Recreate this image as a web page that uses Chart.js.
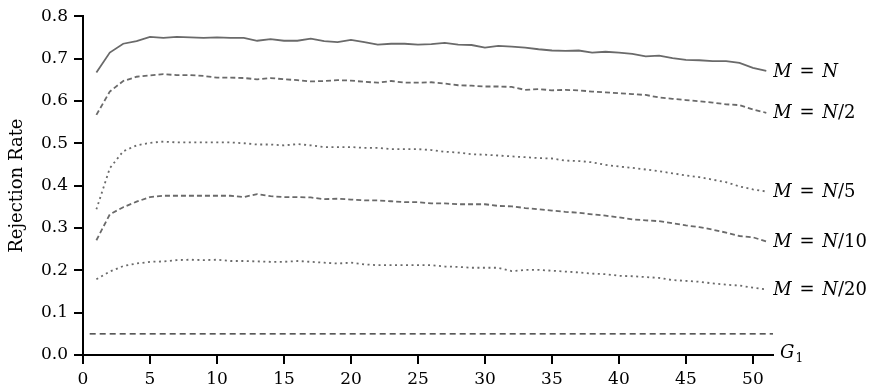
<!DOCTYPE html>
<html>
<head>
<meta charset="utf-8">
<script src="https://cdn.jsdelivr.net/npm/chart.js@4.4.1/dist/chart.umd.min.js"></script>
<style>
  html, body { margin: 0; padding: 0; background: #fff; }
  #wrap { width: 875px; height: 388px; position: relative; }
</style>
</head>
<body>
<div id="wrap"><canvas id="rejection"></canvas></div>
<script>
const g1 = [1,2,3,4,5,6,7,8,9,10,11,12,13,14,15,16,17,18,19,20,21,22,23,24,25,26,27,28,29,30,31,32,33,34,35,36,37,38,39,40,41,42,43,44,45,46,47,48,49,50,51];

const seriesNames = ['M = N', 'M = N/2', 'M = N/5', 'M = N/10', 'M = N/20'];

const rateN = [0.667,0.714,0.735,0.741,0.751,0.749,0.751,0.750,0.749,0.750,
  0.749,0.749,0.742,0.746,0.742,0.742,0.747,0.741,0.739,0.744,
  0.739,0.733,0.735,0.735,0.733,0.734,0.737,0.733,0.732,0.726,
  0.730,0.728,0.726,0.722,0.719,0.718,0.719,0.714,0.716,0.714,
  0.711,0.705,0.707,0.701,0.697,0.696,0.694,0.694,0.690,0.678,0.671];
const rateN2 = [0.567,0.622,0.647,0.657,0.660,0.663,0.661,0.661,0.659,0.655,
  0.655,0.654,0.651,0.654,0.651,0.649,0.646,0.647,0.649,0.648,
  0.645,0.643,0.647,0.643,0.643,0.644,0.641,0.637,0.636,0.634,
  0.634,0.633,0.626,0.628,0.625,0.626,0.625,0.622,0.620,0.618,
  0.616,0.614,0.608,0.605,0.602,0.599,0.596,0.592,0.590,0.580,0.572];
const rateN5 = [0.344,0.441,0.481,0.495,0.501,0.504,0.502,0.502,0.502,0.502,
  0.502,0.500,0.497,0.497,0.495,0.498,0.495,0.491,0.491,0.491,
  0.489,0.489,0.486,0.486,0.486,0.484,0.480,0.478,0.474,0.473,
  0.471,0.469,0.467,0.465,0.464,0.459,0.458,0.455,0.449,0.445,
  0.442,0.438,0.434,0.429,0.424,0.420,0.414,0.408,0.398,0.391,0.386];
const rateN10 = [0.271,0.332,0.349,0.362,0.373,0.376,0.376,0.376,0.376,0.376,
  0.376,0.373,0.380,0.375,0.373,0.373,0.372,0.368,0.369,0.367,
  0.365,0.365,0.363,0.361,0.361,0.358,0.358,0.356,0.356,0.356,
  0.352,0.351,0.347,0.344,0.341,0.338,0.336,0.332,0.329,0.325,
  0.320,0.318,0.316,0.311,0.306,0.302,0.296,0.289,0.281,0.278,0.268];
const rateN20 = [0.179,0.197,0.210,0.216,0.220,0.221,0.224,0.225,0.224,0.225,
  0.222,0.222,0.221,0.220,0.220,0.222,0.220,0.218,0.216,0.218,
  0.214,0.212,0.212,0.212,0.212,0.212,0.209,0.208,0.206,0.206,
  0.206,0.198,0.201,0.201,0.199,0.197,0.195,0.192,0.191,0.187,
  0.186,0.184,0.182,0.177,0.175,0.173,0.169,0.166,0.164,0.159,0.155];

// nominal level line
const nominalLevel = 0.05;
const nominalSpan = [0.5, 51.5];

const serif = '"DejaVu Serif", "Liberation Serif", serif';
const grey = '#6a6a6a';
const tickLen = 9;

function toPoints(ys) {
  return g1.map((x, i) => ({ x: x, y: ys[i] }));
}

// draws "M = N/2" style text: capital letters in italic
function drawMath(ctx, text, x, y, size) {
  ctx.textBaseline = 'middle';
  ctx.textAlign = 'left';
  let cx = x;
  for (const ch of text) {
    const ital = /[A-Z]/.test(ch);
    ctx.font = (ital ? 'italic ' : '') + size + 'px ' + serif;
    ctx.fillText(ch, cx, y);
    cx += ctx.measureText(ch).width + (ch === ' ' ? 2 : 0);
  }
  return cx;
}

const endLabels = {
  id: 'endLabels',
  afterDraw(chart) {
    const ctx = chart.ctx;
    const xs = chart.scales.x;
    const ys = chart.scales.y;
    const x0 = chart.chartArea.left;
    const y0 = chart.chartArea.bottom;
    ctx.save();
    ctx.strokeStyle = '#000';
    ctx.lineWidth = 2;
    ctx.setLineDash([]);
    // outward tick marks
    ctx.beginPath();
    xs.ticks.forEach(t => {
      const px = Math.round(xs.getPixelForValue(t.value));
      ctx.moveTo(px, y0);
      ctx.lineTo(px, y0 + tickLen);
    });
    ys.ticks.forEach(t => {
      const py = Math.round(ys.getPixelForValue(t.value));
      ctx.moveTo(x0, py);
      ctx.lineTo(x0 - tickLen, py);
    });
    ctx.stroke();

    ctx.fillStyle = '#000';
    chart.data.datasets.forEach((ds, i) => {
      if (!ds.endLabel) return;
      const meta = chart.getDatasetMeta(i);
      const last = meta.data[meta.data.length - 1];
      drawMath(ctx, ds.endLabel, last.x + 7, last.y + 1, 18);
    });
    // axis name at the end of the x axis
    let cx = drawMath(ctx, 'G', xs.right + 7, y0 - 2, 18);
    ctx.font = '12px ' + serif;
    ctx.fillText('1', cx + 1, y0 + 4);
    ctx.restore();
  }
};

const lineStyle = (data, dash, name) => ({
  label: name,
  endLabel: name,
  data: toPoints(data),
  borderColor: grey,
  borderWidth: 1.8,
  borderDash: dash,
  pointRadius: 0,
  tension: 0,
  fill: false
});

const ctx = document.getElementById('rejection').getContext('2d');
const chart = new Chart(ctx, {
  type: 'line',
  data: {
    datasets: [
      lineStyle(rateN, [], seriesNames[0]),
      lineStyle(rateN2, [5, 3], seriesNames[1]),
      lineStyle(rateN5, [2, 3.5], seriesNames[2]),
      lineStyle(rateN10, [5, 3], seriesNames[3]),
      lineStyle(rateN20, [2, 3.5], seriesNames[4]),
      {
        label: 'nominal',
        data: nominalSpan.map(x => ({ x: x, y: nominalLevel })),
        borderColor: '#222',
        borderWidth: 1.2,
        borderDash: [6, 4],
        pointRadius: 0,
        fill: false
      }
    ]
  },
  options: {
    responsive: true,
    maintainAspectRatio: false,
    animation: false,
    layout: { padding: { top: 8, right: 102, left: 0, bottom: 0 } },
    plugins: {
      legend: { display: false },
      tooltip: { enabled: false }
    },
    scales: {
      x: {
        type: 'linear',
        min: 0,
        max: 51.5,
        grid: { display: false, drawTicks: true, tickLength: tickLen },
        border: { display: true, color: '#000', width: 2 },
        ticks: {
          stepSize: 5,
          includeBounds: false,
          color: '#000',
          padding: 5,
          maxRotation: 0,
          font: { family: serif, size: 17 }
        },
        afterFit: (scale) => { scale.height = 33; }
      },
      y: {
        min: 0,
        max: 0.8,
        grid: { display: false, drawTicks: true, tickLength: tickLen },
        border: { display: true, color: '#000', width: 2 },
        title: {
          display: true,
          text: 'Rejection Rate',
          color: '#000',
          font: { family: serif, size: 18 },
          padding: { top: 7, bottom: 0 }
        },
        ticks: {
          stepSize: 0.1,
          color: '#000',
          padding: 6,
          font: { family: serif, size: 17 },
          callback: (v) => Number(v).toFixed(1)
        },
        afterFit: (scale) => { scale.width = 83; }
      }
    }
  },
  plugins: [endLabels]
});
</script>
</body>
</html>
